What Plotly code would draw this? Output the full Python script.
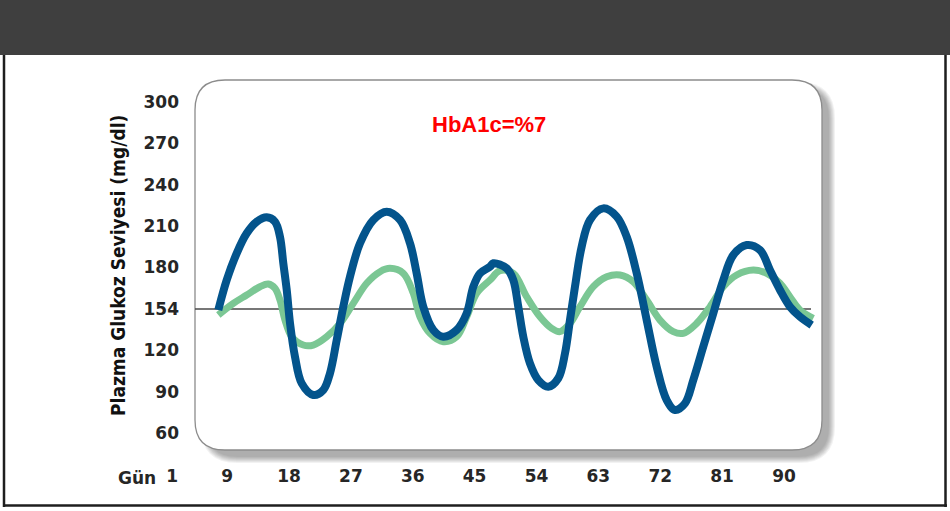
import plotly.graph_objects as go

# ---------------- data ----------------
blue_day = [7.72, 8.94, 10.39, 11.85, 13.30, 14.76, 15.96, 16.69, 17.17, 17.67, 18.15, 18.87,
            19.85, 21.53, 22.99, 23.96, 24.94, 25.90, 26.87, 28.33, 30.26, 32.21, 34.15, 35.60,
            36.57, 37.53, 38.99, 40.44, 42.39, 43.85, 44.81, 45.78, 47.24, 47.72, 49.67, 50.63,
            51.35, 52.08, 53.05, 54.26, 55.72, 57.17, 58.15, 58.87, 59.60, 60.57, 61.78, 63.72,
            65.67, 67.12, 68.58, 70.03, 71.48, 72.94, 74.15, 75.60, 76.81, 78.26, 79.72, 81.17,
            82.63, 84.57, 86.51, 87.96, 89.42, 90.87, 92.33, 94.03]
blue_val = [149.2, 170.9, 190.3, 204.8, 213.2, 216.4, 213.2, 202.3, 183.1, 163.7, 139.5, 115.3,
            96.0, 87.6, 91.2, 103.3, 127.4, 151.6, 173.3, 197.6, 214.5, 220.5, 214.5, 197.6,
            175.8, 151.6, 134.7, 129.8, 134.7, 146.8, 166.1, 175.8, 180.6, 183.1, 179.4, 170.9,
            151.6, 129.8, 110.5, 98.4, 93.6, 99.7, 117.8, 141.9, 166.1, 195.1, 214.5, 222.9,
            216.9, 202.3, 175.8, 141.9, 108.1, 83.9, 76.7, 81.5, 98.4, 122.6, 146.8, 170.9,
            189.1, 196.3, 192.7, 178.2, 163.7, 151.6, 144.3, 138.3]

green_day = [7.72, 9.90, 11.85, 13.78, 14.99, 15.96, 16.69, 17.42, 18.39, 20.08, 21.53, 23.48,
             25.42, 27.35, 29.30, 31.24, 32.69, 34.63, 36.08, 37.05, 38.51, 40.44, 42.39, 43.85,
             45.30, 47.24, 48.69, 50.63, 52.57, 54.51, 56.21, 57.42, 58.87, 60.33, 62.26, 64.21,
             66.15, 68.08, 70.03, 71.96, 73.90, 75.35, 77.30, 79.24, 81.17, 83.12, 85.53, 87.48,
             89.42, 90.87, 92.33, 94.26]
green_val = [145.6, 154.0, 160.1, 166.1, 168.0, 164.9, 156.4, 141.9, 129.8, 123.8, 123.8, 129.8,
             139.5, 154.0, 168.6, 177.0, 179.4, 175.8, 161.3, 144.3, 132.3, 126.2, 129.8, 144.3,
             161.3, 170.9, 177.7, 175.8, 158.8, 144.3, 135.9, 133.5, 139.5, 151.6, 166.1, 173.3,
             174.6, 169.7, 156.4, 141.9, 133.5, 132.3, 139.5, 151.6, 166.1, 174.6, 178.2, 175.8,
             168.6, 158.8, 149.2, 143.2]

x_tick_vals = [1, 9, 18, 27, 36, 45, 54, 63, 72, 81, 90]
x_tick_text = ["1", "9", "18", "27", "36", "45", "54", "63", "72", "81", "90"]
y_tick_vals = [60, 90, 120, 150, 180, 210, 240, 270, 300]
y_tick_text = ["60", "90", "120", "154", "180", "210", "240", "270", "300"]
ref_level = 150          # the line labelled "154"
hba1c_label = "HbA1c=%7"
y_title = "Plazma Glukoz Seviyesi (mg/dl)"
x_title = "Gün"

# ---------------- layout geometry ----------------
W, H = 950, 511
PL, PR, PT, PB = 150, 822, 80, 450          # plotting area in pixels
PANEL = (195, 80, 822, 450)                 # rounded panel box
x_range = [-2.22, 95.53]
y_range = [47.67, 316.0]


def xp(px):
    return (px - PL) / (PR - PL)


def yp(py):
    return (PB - py) / (PB - PT)


def rounded(x0, y0, x1, y1, r):
    pts = [
        f"M {xp(x0 + r)} {yp(y0)}",
        f"L {xp(x1 - r)} {yp(y0)}",
        f"Q {xp(x1)} {yp(y0)} {xp(x1)} {yp(y0 + r)}",
        f"L {xp(x1)} {yp(y1 - r)}",
        f"Q {xp(x1)} {yp(y1)} {xp(x1 - r)} {yp(y1)}",
        f"L {xp(x0 + r)} {yp(y1)}",
        f"Q {xp(x0)} {yp(y1)} {xp(x0)} {yp(y1 - r)}",
        f"L {xp(x0)} {yp(y0 + r)}",
        f"Q {xp(x0)} {yp(y0)} {xp(x0 + r)} {yp(y0)}",
        "Z",
    ]
    return " ".join(pts)


shapes = []
# dark banner
shapes.append(dict(type="rect", xref="paper", yref="paper", x0=xp(-2), x1=xp(W + 2),
                   y0=yp(55), y1=yp(-2), fillcolor="#3f3f3f", line_width=0, layer="below"))
# frame lines
shapes.append(dict(type="line", xref="paper", yref="paper", x0=xp(4), x1=xp(4),
                   y0=yp(55), y1=yp(507), line=dict(color="#1e1e1e", width=2.5), layer="below"))
shapes.append(dict(type="line", xref="paper", yref="paper", x0=xp(945.5), x1=xp(945.5),
                   y0=yp(55), y1=yp(507), line=dict(color="#1e1e1e", width=2.5), layer="below"))
shapes.append(dict(type="line", xref="paper", yref="paper", x0=xp(3), x1=xp(947),
                   y0=yp(505.5), y1=yp(505.5), line=dict(color="#1e1e1e", width=2.5), layer="below"))
# panel shadow
x0, y0, x1, y1 = PANEL
for k in range(7):
    g = 6 - k
    shapes.append(dict(type="path", xref="paper", yref="paper",
                       path=rounded(x0 + 12 - g, y0 + 8 - g, x1 + 7 + g, y1 + 7 + g, 30 + g),
                       fillcolor="rgba(0,0,0,0.05)", line_width=0, layer="below"))
# panel
shapes.append(dict(type="path", xref="paper", yref="paper", path=rounded(x0, y0, x1, y1, 30),
                   fillcolor="white", line=dict(color="#8c8c8c", width=1.3), layer="below"))
# reference line
shapes.append(dict(type="line", xref="paper", yref="y", x0=xp(195), x1=xp(811),
                   y0=ref_level, y1=ref_level, line=dict(color="#4a4a4a", width=1.5), layer="below"))

fig = go.Figure()
fig.add_trace(go.Scatter(x=green_day, y=green_val, mode="lines",
                         line=dict(color="#7bc794", width=7, shape="spline", smoothing=1.0),
                         hoverinfo="skip", showlegend=False))
fig.add_trace(go.Scatter(x=blue_day, y=blue_val, mode="lines",
                         line=dict(color="#03548c", width=8, shape="spline", smoothing=1.0),
                         hoverinfo="skip", showlegend=False))

tick_font = dict(family="DejaVu Sans", size=17, color="#262626", weight="bold")

fig.update_layout(
    width=W, height=H,
    margin=dict(l=PL, r=W - PR, t=PT, b=H - PB, pad=0),
    paper_bgcolor="white", plot_bgcolor="rgba(0,0,0,0)",
    showlegend=False,
    shapes=shapes,
    xaxis=dict(range=x_range, tickmode="array", tickvals=x_tick_vals, ticktext=x_tick_text,
               showgrid=False, zeroline=False, showline=False, ticks="",
               ticklabelstandoff=14, tickfont=tick_font, fixedrange=True),
    yaxis=dict(range=y_range, tickmode="array", tickvals=y_tick_vals, ticktext=y_tick_text,
               showgrid=False, zeroline=False, showline=False, ticks="",
               anchor="free", position=xp(195), side="left",
               ticklabelstandoff=16, tickfont=tick_font, fixedrange=True),
    annotations=[
        dict(text=y_title, xref="paper", yref="paper", x=xp(118), y=yp(266),
             textangle=-90, showarrow=False, xanchor="center", yanchor="middle",
             font=dict(family="DejaVu Sans Condensed", size=19, color="#111111", weight="bold")),
        dict(text=x_title, xref="paper", yref="paper", x=xp(137), y=yp(478),
             showarrow=False, xanchor="center", yanchor="middle",
             font=tick_font),
        dict(text=hba1c_label, xref="paper", yref="paper", x=xp(489), y=yp(124),
             showarrow=False, xanchor="center", yanchor="middle",
             font=dict(family="Liberation Sans", size=22, color="#ff0000", weight="bold")),
    ],
)

fig.write_html("out.html", config={"displayModeBar": False, "staticPlot": True},
               post_script="document.body.style.margin='0';document.body.style.padding='0';"
                           "document.body.style.overflow='hidden';")
